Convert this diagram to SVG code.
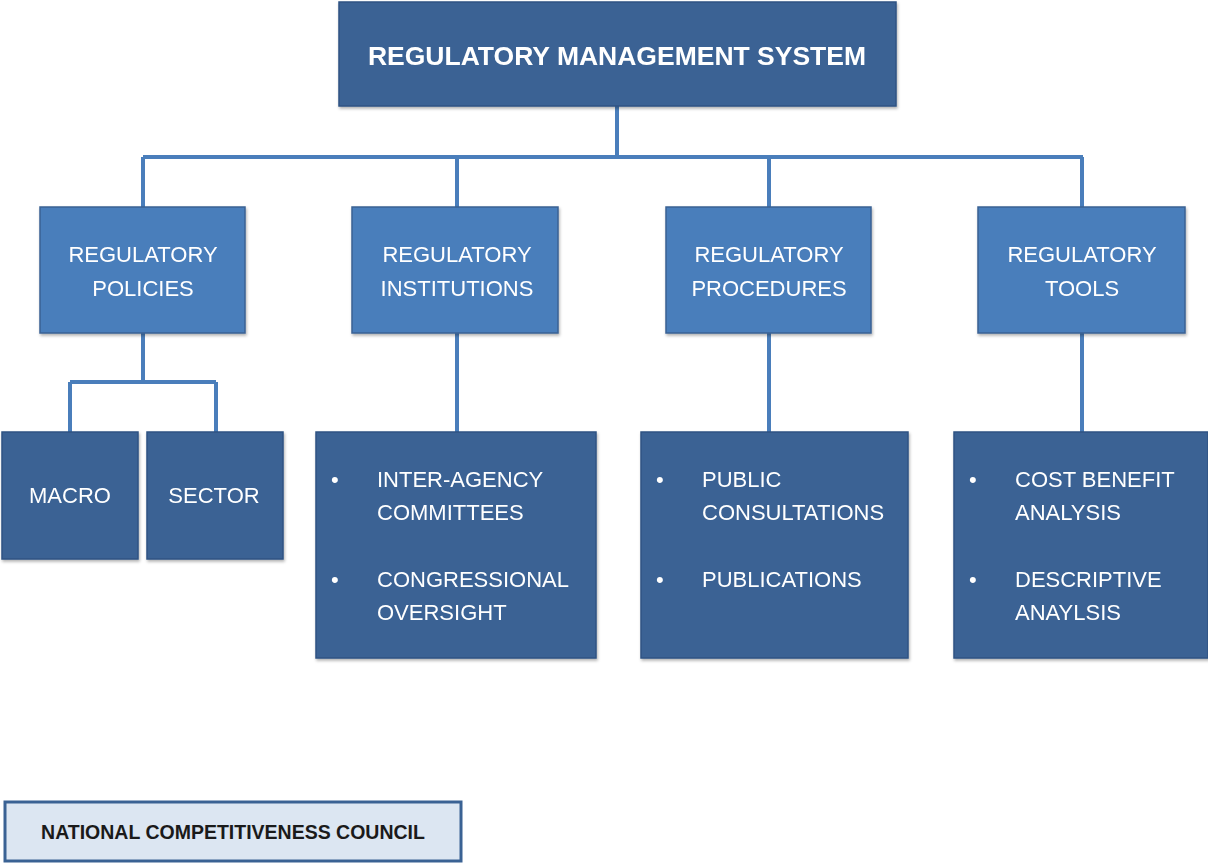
<svg xmlns="http://www.w3.org/2000/svg" width="1208" height="867" viewBox="0 0 1208 867">
<style>
.dark{fill:#3A6294;stroke:#2F5383;stroke-width:1.5}
.mid{fill:#4A7EBB;stroke:#3A6294;stroke-width:1.5}
.t{font-family:"Liberation Sans",Arial,sans-serif;fill:#FFFFFF;font-size:22px}
.c{text-anchor:middle}
.b{font-weight:bold}
.title{font-size:26.5px}
.conn{fill:none;stroke:#4A7EBB;stroke-width:4}
</style>
<defs>
<filter id="sh" x="-5%" y="-5%" width="110%" height="115%"><feDropShadow dx="1" dy="2" stdDeviation="1.5" flood-color="#000" flood-opacity="0.3"/></filter>
</defs>
<rect width="1208" height="867" fill="#FFFFFF"/>
<g id="connectors">
<path class="conn" d="M617 106V157M143 157H1083M143 157V207M457 157V207M769 157V207M1082 157V207"/>
<path class="conn" d="M143 333V382M70 382H216M70 382V432M216 382V432"/>
<path class="conn" d="M457 333V432M769 333V432M1082 333V432"/>
</g>
<g id="root" filter="url(#sh)"><rect class="dark" x="339" y="2" width="557" height="104"/>
<text class="t c b title" x="617" y="65">REGULATORY MANAGEMENT SYSTEM</text></g>
<g id="policies" filter="url(#sh)"><rect class="mid" x="40" y="207" width="205" height="126"/>
<text class="t c" x="143" y="262">REGULATORY</text><text class="t c" x="143" y="296">POLICIES</text></g>
<g id="institutions" filter="url(#sh)"><rect class="mid" x="352" y="207" width="206" height="126"/>
<text class="t c" x="457" y="262">REGULATORY</text><text class="t c" x="457" y="296">INSTITUTIONS</text></g>
<g id="procedures" filter="url(#sh)"><rect class="mid" x="666" y="207" width="205" height="126"/>
<text class="t c" x="769" y="262">REGULATORY</text><text class="t c" x="769" y="296">PROCEDURES</text></g>
<g id="tools" filter="url(#sh)"><rect class="mid" x="978" y="207" width="207" height="126"/>
<text class="t c" x="1082" y="262">REGULATORY</text><text class="t c" x="1082" y="296">TOOLS</text></g>
<g id="macro" filter="url(#sh)"><rect class="dark" x="2" y="432" width="136" height="127"/>
<text class="t c" x="70" y="503">MACRO</text></g>
<g id="sector" filter="url(#sh)"><rect class="dark" x="147" y="432" width="136" height="127"/>
<text class="t c" x="214" y="503">SECTOR</text></g>
<g id="inst-list" filter="url(#sh)"><rect class="dark" x="316" y="432" width="280" height="226"/>
<text class="t" x="331" y="487">•</text><text class="t" x="377" y="487">INTER-AGENCY</text><text class="t" x="377" y="520">COMMITTEES</text>
<text class="t" x="331" y="587">•</text><text class="t" x="377" y="587">CONGRESSIONAL</text><text class="t" x="377" y="620">OVERSIGHT</text></g>
<g id="proc-list" filter="url(#sh)"><rect class="dark" x="641" y="432" width="267" height="226"/>
<text class="t" x="656" y="487">•</text><text class="t" x="702" y="487">PUBLIC</text><text class="t" x="702" y="520">CONSULTATIONS</text>
<text class="t" x="656" y="587">•</text><text class="t" x="702" y="587">PUBLICATIONS</text></g>
<g id="tools-list" filter="url(#sh)"><rect class="dark" x="954" y="432" width="254" height="226"/>
<text class="t" x="969" y="487">•</text><text class="t" x="1015" y="487">COST BENEFIT</text><text class="t" x="1015" y="520">ANALYSIS</text>
<text class="t" x="969" y="587">•</text><text class="t" x="1015" y="587">DESCRIPTIVE</text><text class="t" x="1015" y="620">ANAYLSIS</text></g>
<g id="council"><rect x="5" y="802" width="456" height="59" fill="#DCE6F2" stroke="#3A6294" stroke-width="3"/>
<text x="233" y="839" text-anchor="middle" font-family="'Liberation Sans',Arial,sans-serif" font-size="19.5" font-weight="bold" fill="#1A1A1A">NATIONAL COMPETITIVENESS COUNCIL</text></g>
</svg>
